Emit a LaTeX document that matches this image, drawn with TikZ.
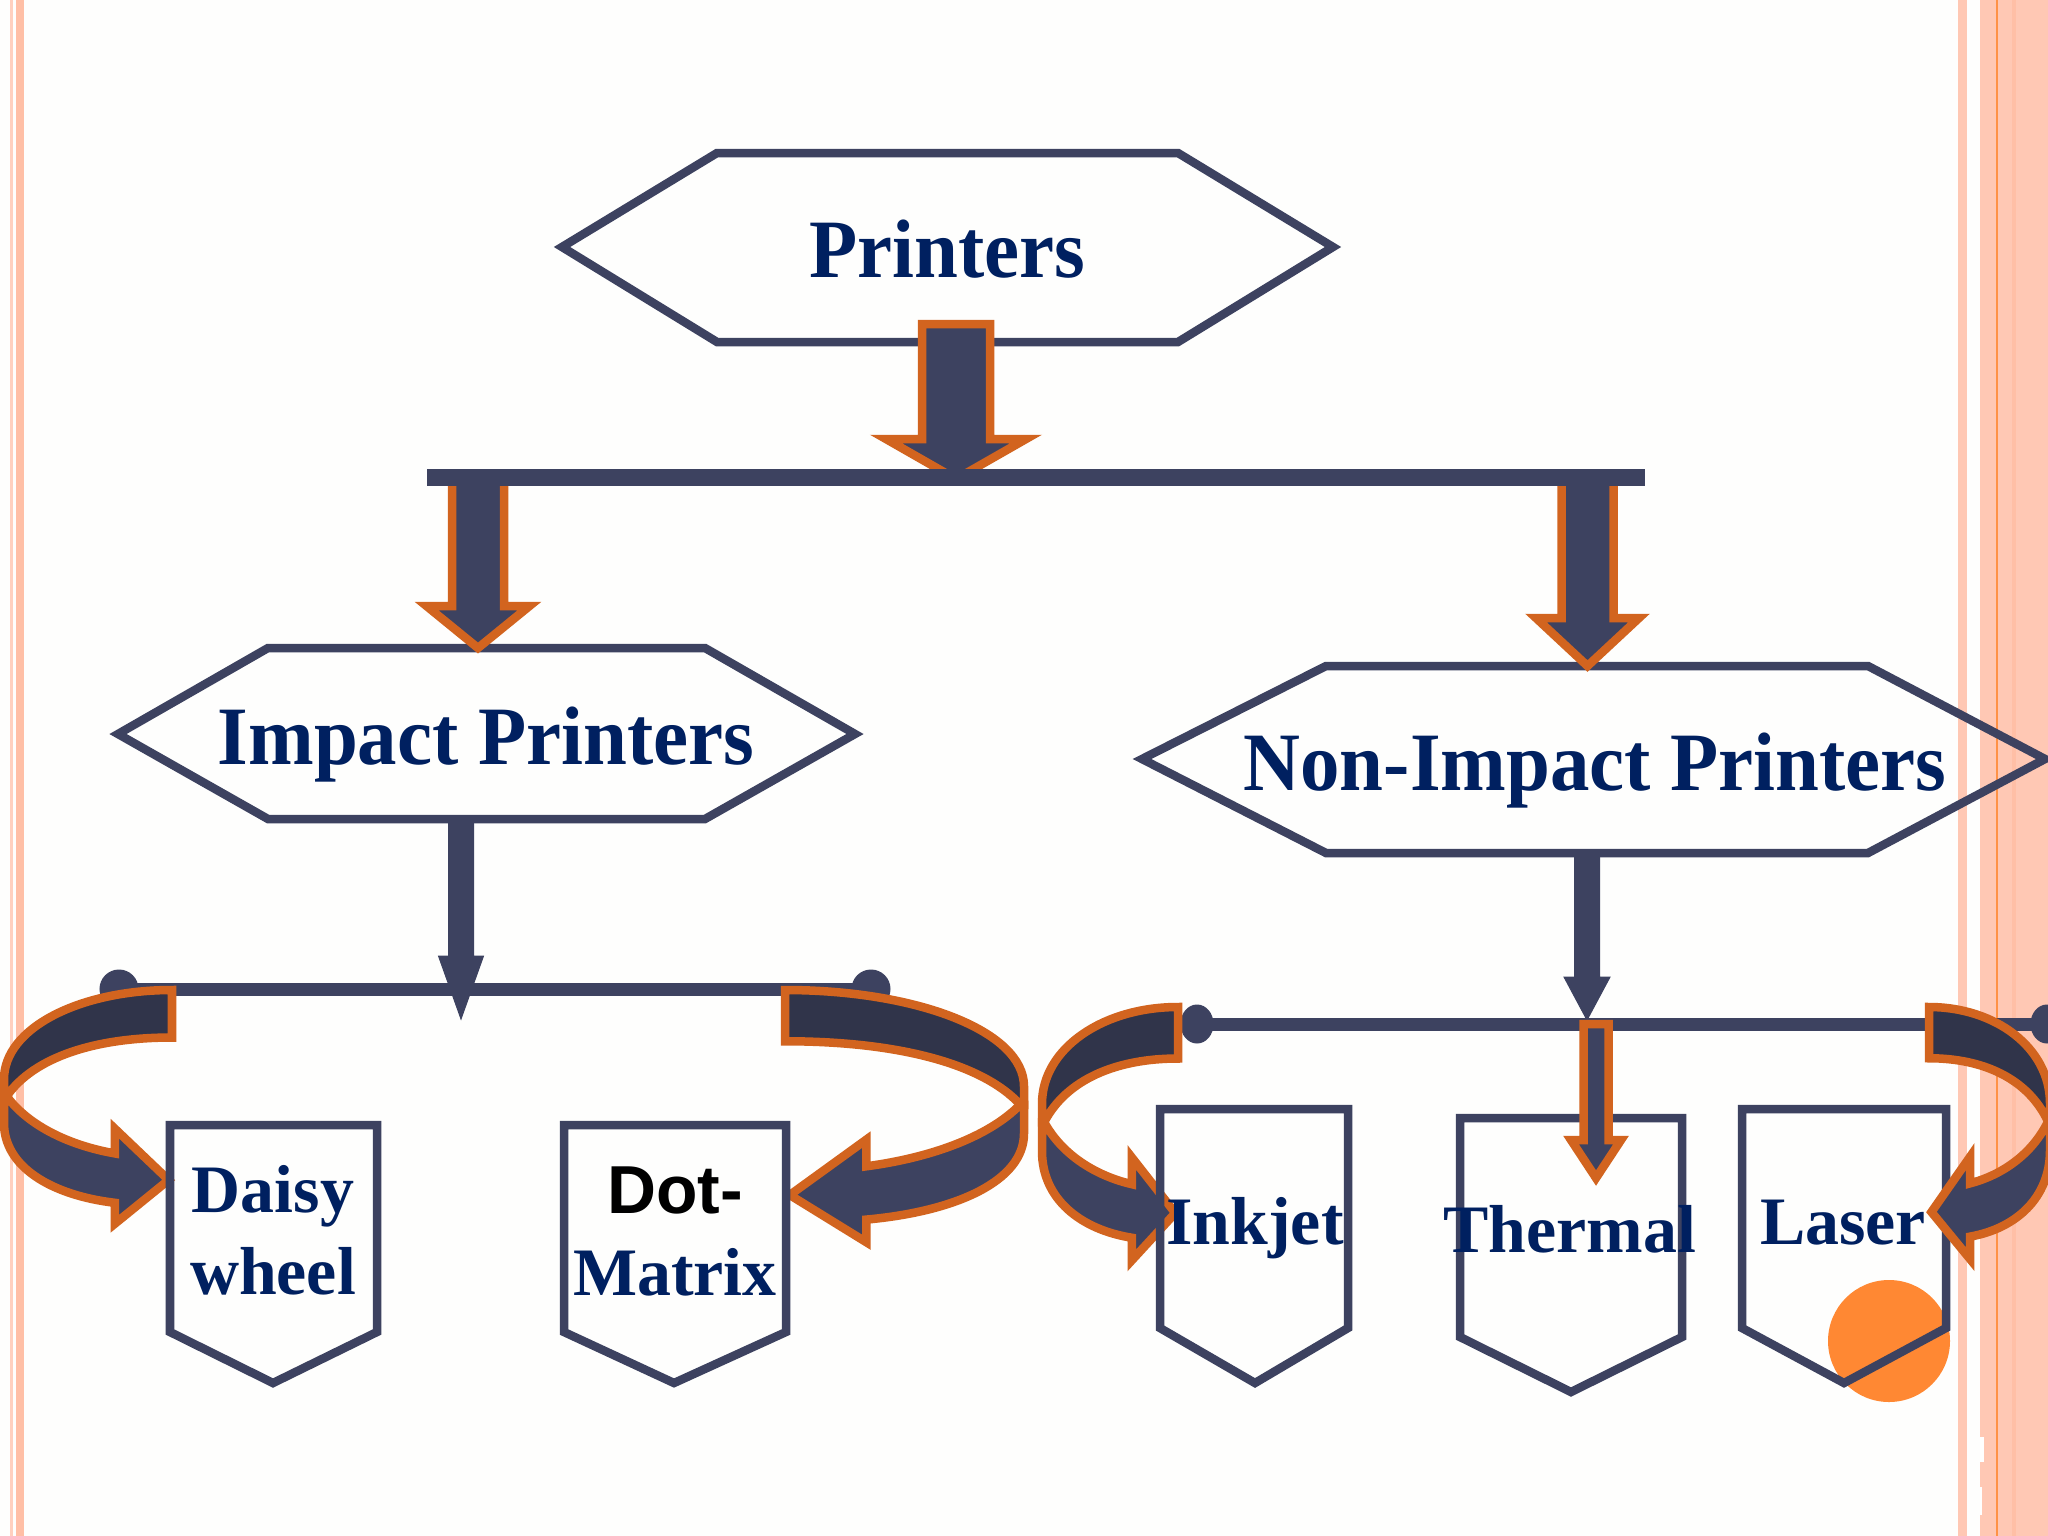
\documentclass[tikz,border=0pt]{standalone}
\usepackage{fontspec}
\usepackage{tikz}
\usetikzlibrary{calc,shapes.geometric}
\setmainfont{Liberation Serif}
\setsansfont{Liberation Sans}
\newfontfamily\headfont[FakeStretch=0.95]{Liberation Serif}
\definecolor{paper}{HTML}{FEFEFD}
\definecolor{slate}{HTML}{3D4260}
\definecolor{slatedark}{HTML}{30344A}
\definecolor{rust}{HTML}{D2641F}
\definecolor{inknavy}{HTML}{002060}
\definecolor{salmon}{HTML}{FFC8B4}
\definecolor{salmondark}{HTML}{FFBFA6}
\definecolor{spot}{HTML}{FF8833}
\newcommand{\blockdown}[6][fat arrow]{
  \draw[#1] ($(#2)+(-#4,0)$) -- ($(#2)+(#4,0)$) -- ($(#3)+(#4,-#6)$) -- ($(#3)+(#5,-#6)$)
    -- (#3) -- ($(#3)+(-#5,-#6)$) -- ($(#3)+(-#4,-#6)$) -- cycle;
}
\newcommand{\curvedblock}[3]{
  \begin{scope}[shift={(#1)},xscale=#2,yscale=#3]
    \draw[fat arrow] (.985,.56) -- (1,.56) -- (1,.70) .. controls (1,.93) and (.72,1.08) .. (.34,1.12)
      -- (.34,1.23) -- (.02,1) -- (.34,.73) -- (.34,.86) .. controls (.6,.82) and (.85,.72) .. cycle;
    \draw[fat arrow,fill=slatedark] (0,0) .. controls (.55,0) and (1,.2) .. (1,.47) -- (1,.56) -- (.985,.56)
      .. controls (.82,.35) and (.45,.25) .. (0,.25) -- cycle;
  \end{scope}
}

\begin{document}
\begin{tikzpicture}[x=0.01cm,y=-0.01cm,
  box line/.style={draw=slate,line width=0.085cm,line join=miter},
  fat arrow/.style={draw=rust,fill=slate,line width=0.085cm,line join=miter},
  thin arrow/.style={draw=slate,fill=slate,line width=0.01cm},
  rail/.style={draw=slate,line width=0.13cm},
  rail end/.style={ellipse,fill=slate,inner sep=0pt,minimum width=0.39cm,minimum height=0.39cm},
  main node/.style={font=\headfont\bfseries\fontsize{23.6}{28}\selectfont,text=inknavy,anchor=base},
  leaf node/.style={font=\bfseries\fontsize{19.3}{23.3}\selectfont,text=inknavy,align=center}]

  \useasboundingbox (0,0) rectangle (2048,1536);
  \fill[paper] (0,0) rectangle (2048,1536);

  \fill[salmon!85!white] (10,0) rectangle (13,1536);
  \fill[salmondark] (16,0) rectangle (24,1536);
  \fill[salmon] (1958,0) rectangle (1967,1536);
  \fill[salmon] (1980,0) rectangle (2048,1536);
  \fill[salmondark] (2012,0) rectangle (2016,1536);
  \fill[spot!85!salmon] (1996,0) rectangle (1998,1536);
  \fill[white] (1980,1437) rectangle (1984,1462);
  \fill[white] (1980,1487) rectangle (1982,1515);

  \draw[box line] (562,247) -- (717,153) -- (1178,153) -- (1333,247) -- (1178,342) -- (717,342) -- cycle;
  \draw[box line] (118,734) -- (268,648) -- (705,648) -- (855,734) -- (705,819) -- (268,819) -- cycle;
  \draw[box line] (1142,759) -- (1326,666) -- (1868,666) -- (2045,759) -- (1868,853) -- (1326,853) -- cycle;

  \coordinate (printers out) at (956,324);
  \coordinate (bar hit) at (956,479);
  \coordinate (bar left) at (427,477.5);
  \coordinate (bar right) at (1645,477.5);
  \coordinate (impact in) at (478,648);
  \coordinate (impact top) at (478,480);
  \coordinate (nonimpact in) at (1587.5,666);
  \coordinate (nonimpact top) at (1587.5,480);
  \coordinate (impact out) at (461,819);
  \coordinate (impact hit) at (461,1019);
  \coordinate (nonimpact out) at (1587,853);
  \coordinate (nonimpact hit) at (1587,1020);
  \coordinate (thermal top) at (1596,1024);
  \coordinate (thermal tip) at (1596,1178);

  \blockdown{printers out}{bar hit}{34}{70}{40}
  \blockdown{impact top}{impact in}{26}{51.5}{42}
  \blockdown{nonimpact top}{nonimpact in}{26}{51.5}{48}
  \draw[draw=slate,line width=0.17cm] (bar left) -- (bar right);

  \node[rail end] (dot a) at (119,989) {};
  \node[rail end] (dot b) at (871,989) {};
  \node[rail end,minimum width=0.33cm] (dot c) at (1197,1024) {};
  \node[rail end,minimum width=0.33cm] (dot d) at (2047,1024) {};
  \draw[rail] (dot a.center) -- (dot b.center);
  \draw[rail] (dot c.center) -- (dot d.center);

  \blockdown[thin arrow]{impact out}{impact hit}{12.5}{22.5}{63}
  \blockdown[thin arrow]{nonimpact out}{nonimpact hit}{12.5}{23}{43}

  \fill[spot] (1889,1341) circle (61);

  \curvedblock{172,990}{-168}{190}
  \curvedblock{785,990}{239}{205}
  \curvedblock{1178,1007}{-136}{206}

  \draw[box line] (170,1125) -- (377,1125) -- (377,1332) -- (273,1383) -- (170,1332) -- cycle;
  \draw[box line] (564,1125) -- (786,1125) -- (786,1332) -- (674,1383) -- (564,1332) -- cycle;
  \draw[box line] (1160,1109) -- (1348,1109) -- (1348,1328) -- (1255,1383) -- (1160,1328) -- cycle;
  \draw[box line] (1460,1118) -- (1682,1118) -- (1682,1337) -- (1571,1392) -- (1460,1337) -- cycle;
  \draw[box line] (1742,1109) -- (1946,1109) -- (1946,1328) -- (1844,1383) -- (1742,1328) -- cycle;

  \curvedblock{1929,1007}{121}{205}
  \blockdown{thermal top}{thermal tip}{12.5}{25}{38}

  \node[main node] (printers) at (947,277) {Printers};
  \node[main node] (impact) at (486,764) {Impact Printers};
  \node[main node] (nonimpact) at (1595,790) {Non-Impact Printers};

  \node[leaf node] (daisy) at (273,1230) {Daisy\\wheel};
  \node[leaf node] (dotmatrix) at (675,1231) {{\sffamily\color{black}Dot-}\\Matrix};
  \node[leaf node,anchor=base] (inkjet) at (1255,1244) {Inkjet};
  \node[leaf node,anchor=base] (thermal) at (1570,1252) {Thermal};
  \node[leaf node,anchor=base] (laser) at (1843,1244) {Laser};

\end{tikzpicture}
\end{document}
